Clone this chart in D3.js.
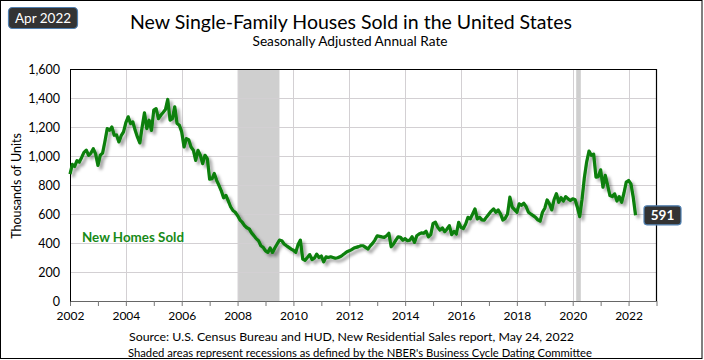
<!DOCTYPE html>
<html><head><meta charset="utf-8">
<script src="https://cdn.jsdelivr.net/npm/d3@7"></script>
<style>html,body{margin:0;padding:0;background:#fff;}svg{display:block;font-family:Lato,"Open Sans",sans-serif;}</style>
</head><body>
<script>
const title = "New Single-Family Houses Sold in the United States";
const subtitle = "Seasonally Adjusted Annual Rate";
const dateLabel = "Apr 2022";
const yTitle = "Thousands of Units";
const seriesName = "New Homes Sold";
const source1 = "Source:  U.S. Census Bureau and HUD, New Residential Sales report, May 24, 2022";
const source2 = "Shaded areas represent recessions as defined by the NBER's Business Cycle Dating Committee";
const yTicks = [0, 200, 400, 600, 800, 1000, 1200, 1400, 1600];
const xTickYears = [2002, 2004, 2006, 2008, 2010, 2012, 2014, 2016, 2018, 2020, 2022];
const recessions = [[2008.0, 2009.5], [2020.125, 2020.29]];
const years = [2002,2003,2004,2005,2006,2007,2008,2009,2010,2011,2012,2013,2014,2015,2016,2017,2018,2019,2020,2021,2022];
const sales = [
  [875, 942, 928, 968, 958, 990, 1025, 1040, 1005, 1020, 1050, 1015],
  [935, 1005, 1020, 1100, 1189, 1177, 1200, 1143, 1145, 1097, 1140, 1166],
  [1230, 1270, 1224, 1235, 1177, 1130, 1090, 1200, 1298, 1189, 1247, 1177],
  [1316, 1327, 1258, 1281, 1300, 1320, 1390, 1247, 1258, 1339, 1224, 1212],
  [1166, 1062, 1120, 1113, 1062, 1040, 970, 1039, 1005, 947, 1005, 982],
  [840, 843, 880, 832, 797, 760, 712, 728, 690, 650, 624, 612],
  [589, 560, 543, 520, 505, 497, 470, 451, 430, 416, 381, 370],
  [345, 335, 366, 335, 365, 393, 420, 416, 393, 381, 370, 358],
  [350, 335, 390, 420, 289, 281, 300, 320, 286, 295, 323, 300],
  [310, 270, 304, 300, 305, 300, 295, 298, 305, 315, 327, 340],
  [346, 355, 365, 370, 375, 381, 381, 370, 358, 380, 397, 420],
  [450, 446, 442, 439, 450, 467, 374, 393, 420, 443, 439, 420],
  [430, 416, 420, 443, 404, 450, 462, 470, 467, 481, 443, 458],
  [535, 543, 508, 489, 504, 478, 497, 520, 458, 480, 462, 543],
  [508, 500, 531, 577, 566, 600, 635, 566, 577, 560, 558, 580],
  [600, 620, 635, 612, 628, 600, 558, 570, 600, 716, 647, 630],
  [612, 670, 660, 674, 650, 612, 600, 589, 577, 560, 551, 612],
  [640, 697, 670, 628, 700, 740, 681, 712, 689, 720, 704, 693],
  [704, 700, 647, 582, 700, 850, 960, 1034, 1005, 1012, 854, 858],
  [905, 785, 866, 797, 727, 720, 739, 689, 720, 681, 743, 820],
  [831, 808, 716, 591]
];

const W = 704, H = 360;
const svg = d3.select("body").append("svg").attr("width", W).attr("height", H);
const defs = svg.append("defs");
const f = defs.append("filter").attr("id","shadow").attr("x","-5%").attr("y","-5%").attr("width","110%").attr("height","120%");
f.append("feDropShadow").attr("dx",3).attr("dy",3).attr("stdDeviation",1.6).attr("flood-color","#000").attr("flood-opacity",0.35);

const data = [];
years.forEach((y, i) => sales[i].forEach((v, m) => data.push({t: y + m / 12, v})));

const L = 70, R = 656.5, T = 69, B = 301;
const x = d3.scaleLinear().domain([2002, 2023]).range([L, R]);
const y = d3.scaleLinear().domain([0, 1600]).range([B, T]);

// outer frame
svg.append("rect").attr("x",0.5).attr("y",0.5).attr("width",701.5).attr("height",358).attr("fill","#fff").attr("stroke","#000").attr("stroke-width",1);

// recessions
svg.append("g").selectAll("rect").data(recessions).join("rect")
  .attr("x", d => x(d[0])).attr("y", T).attr("width", d => x(d[1]) - x(d[0])).attr("height", B - T)
  .attr("fill", "#cfcfcf");

// grid
const grid = svg.append("g").attr("stroke", "#d3d0d3").attr("stroke-width", 1);
grid.selectAll("line.h").data(yTicks.filter(d => d > 0 && d < 1600)).join("line")
  .attr("x1", L).attr("x2", R).attr("y1", d => Math.round(y(d)) + 0.5).attr("y2", d => Math.round(y(d)) + 0.5);
grid.selectAll("line.v").data(xTickYears.filter(d => d > 2002)).join("line")
  .attr("y1", T).attr("y2", B).attr("x1", d => Math.round(x(d)) + 0.5).attr("x2", d => Math.round(x(d)) + 0.5);

// axes
const xAxis = d3.axisBottom(x).tickValues(d3.range(2002, 2024)).tickSize(5).tickFormat(d => xTickYears.includes(d) ? d : "").tickSizeOuter(0);
const gx = svg.append("g").attr("transform", `translate(0,${B})`).call(xAxis);
gx.select(".domain").attr("stroke", "#666");
gx.selectAll(".tick line").attr("stroke", "#777");
gx.selectAll("text").attr("fill", "#000").attr("font-size", 12).attr("font-family", "Lato, sans-serif").attr("dy", "0.9em");

const yAxis = d3.axisLeft(y).tickValues(yTicks).tickSize(0).tickFormat(d3.format(","));
const gy = svg.append("g").attr("transform", `translate(${L},0)`).call(yAxis);
gy.select(".domain").attr("stroke", "#000");
gy.selectAll("text").attr("fill", "#000").attr("font-size", 12.5).attr("font-family", "Lato, sans-serif").attr("x", -10);

// top and right border
svg.append("path").attr("d", `M${L},${T + 0.5}H${R}V${B}`).attr("fill", "none").attr("stroke", "#000").attr("stroke-width", 1.2);

// line
const line = d3.line().x(d => x(d.t)).y(d => y(d.v));
svg.append("path").datum(data).attr("d", line).attr("fill", "none")
  .attr("stroke", "#087f08").attr("stroke-width", 3.2).attr("stroke-linejoin", "round")
  .attr("filter", "url(#shadow)");

// series label
svg.append("text").attr("x", 82).attr("y", 242).attr("fill", "#178a17").attr("font-weight", "bold")
  .attr("font-size", 13.5).attr("textLength", 102).attr("lengthAdjust","spacingAndGlyphs").text(seriesName);

// y title
svg.append("text").attr("transform", "translate(21,186) rotate(-90)").attr("text-anchor", "middle")
  .attr("font-size", 12.5).attr("fill", "#000").text(yTitle);

// titles
svg.append("text").attr("x", 351).attr("y", 29).attr("text-anchor", "middle").attr("font-size", 19.5)
  .attr("fill", "#000").attr("textLength", 442).attr("lengthAdjust","spacingAndGlyphs").text(title);
svg.append("text").attr("x", 350).attr("y", 46).attr("text-anchor", "middle").attr("font-size", 13)
  .attr("fill", "#000").attr("textLength", 195).attr("lengthAdjust","spacingAndGlyphs").text(subtitle);

// footer
svg.append("text").attr("x", 351.5).attr("y", 341).attr("text-anchor", "middle").attr("font-size", 12)
  .attr("fill", "#000").attr("textLength", 445).attr("lengthAdjust","spacingAndGlyphs").text(source1);
svg.append("text").attr("x", 360).attr("y", 357).attr("text-anchor", "middle").attr("font-size", 12)
  .attr("fill", "#000").attr("textLength", 464).attr("lengthAdjust","spacingAndGlyphs").text(source2);

// date badge
svg.append("rect").attr("x", 8.5).attr("y", 7.5).attr("width", 69).attr("height", 21).attr("rx", 4)
  .attr("fill", "#333").attr("stroke", "#4f7fb0").attr("stroke-width", 1.2);
svg.append("text").attr("x", 43).attr("y", 23).attr("text-anchor", "middle").attr("font-size", 13.5)
  .attr("fill", "#fff").text(dateLabel);

// last value badge
const last = data[data.length - 1];
svg.append("rect").attr("x", 644).attr("y", y(last.v) - 9.5).attr("width", 37).attr("height", 19).attr("rx", 3)
  .attr("fill", "#333").attr("stroke", "#4f7fb0").attr("stroke-width", 1.2);
svg.append("text").attr("x", 662.5).attr("y", y(last.v) + 5).attr("text-anchor", "middle").attr("font-size", 13.5)
  .attr("font-weight", "bold").attr("fill", "#fff").text(d3.format(",")(last.v));
</script>
</body></html>
